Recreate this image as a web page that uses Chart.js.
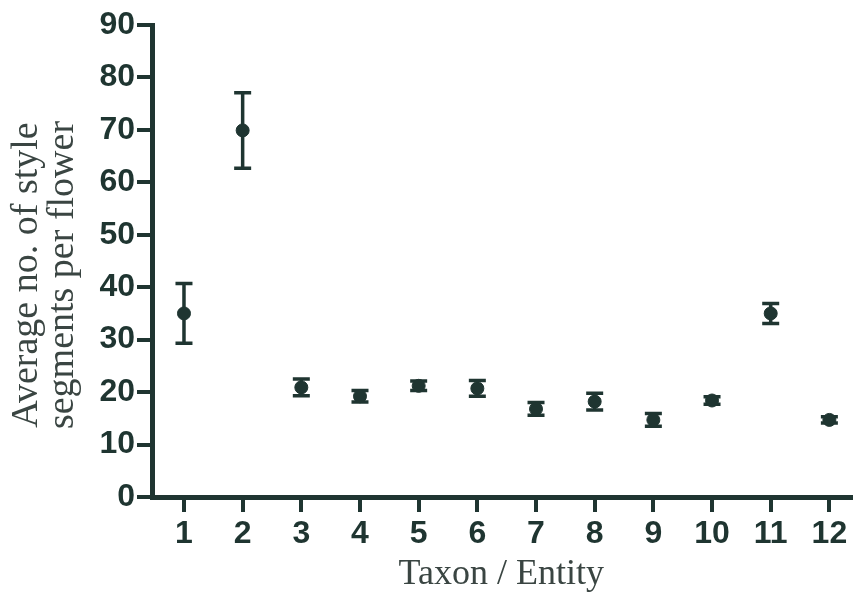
<!DOCTYPE html>
<html>
<head>
<meta charset="utf-8">
<script src="https://cdn.jsdelivr.net/npm/chart.js@4.4.1/dist/chart.umd.min.js"></script>
<style>
  html, body { margin: 0; padding: 0; background: #fff; }
  #wrap { width: 858px; height: 592px; }
</style>
</head>
<body>
<div id="wrap"><canvas id="chart" width="858" height="592"></canvas></div>
<script>
// taxon numbers, mean style segments and error (half bar)
const taxa = [1, 2, 3, 4, 5, 6, 7, 8, 9, 10, 11, 12];
const means = [35.0, 69.9, 20.9, 19.2, 21.2, 20.7, 16.8, 18.2, 14.7, 18.4, 35.0, 14.7];
const errs = [5.7, 7.2, 1.6, 1.1, 0.9, 1.5, 1.2, 1.6, 1.2, 0.7, 1.9, 0.6];
const yTicks = [0, 10, 20, 30, 40, 50, 60, 70, 80, 90];
const yTitle = ['Average no. of style', 'segments per flower'];
const xTitle = 'Taxon / Entity';

const ink = '#1f3531';
const textInk = '#3a4542';

const errorBars = {
    id: 'errorBars',
    beforeDatasetsDraw(chart) {
        const ctx = chart.ctx;
        const xs = chart.scales.x, ys = chart.scales.y;
        ctx.save();
        ctx.strokeStyle = ink;
        ctx.lineWidth = 3.5;
        taxa.forEach((t, i) => {
            const x = xs.getPixelForValue(t);
            const top = ys.getPixelForValue(means[i] + errs[i]);
            const bot = ys.getPixelForValue(means[i] - errs[i]);
            const cap = 8.5;
            ctx.beginPath();
            ctx.moveTo(x, top); ctx.lineTo(x, bot);
            ctx.moveTo(x - cap, top); ctx.lineTo(x + cap, top);
            ctx.moveTo(x - cap, bot); ctx.lineTo(x + cap, bot);
            ctx.stroke();
        });
        ctx.restore();
    }
};

// two-line rotated y title, a bit below the middle like the original
const yTitlePlugin = {
    id: 'yTitle',
    afterDraw(chart) {
        const ctx = chart.ctx;
        const cy = (chart.chartArea.top + chart.chartArea.bottom) / 2 + 14;
        ctx.save();
        ctx.fillStyle = textInk;
        ctx.font = '38px "Liberation Serif", serif';
        ctx.textAlign = 'center';
        ctx.textBaseline = 'alphabetic';
        ctx.translate(37, cy);
        ctx.rotate(-Math.PI / 2);
        ctx.fillText(yTitle[0], 0, 0);
        ctx.fillText(yTitle[1], 0, 36);
        ctx.restore();
    }
};

new Chart(document.getElementById('chart'), {
    type: 'scatter',
    data: {
        datasets: [{
            data: taxa.map((t, i) => ({ x: t, y: means[i] })),
            backgroundColor: ink,
            borderColor: ink,
            pointRadius: 6.5,
            pointHoverRadius: 6.5
        }]
    },
    options: {
        responsive: false,
        animation: false,
        devicePixelRatio: 1,
        layout: { padding: { top: 25, right: 0, bottom: 0, left: 0 } },
        plugins: { legend: { display: false }, tooltip: { enabled: false } },
        scales: {
            x: {
                type: 'linear',
                min: 0.455,
                max: 12.36,
                afterBuildTicks: s => { s.ticks = taxa.map(v => ({ value: v })); },
                afterFit: s => { s.height = 95; },
                border: { color: ink, width: 5 },
                grid: { drawOnChartArea: false, tickLength: 15, lineWidth: 4, color: ink },
                ticks: {
                    color: ink,
                    padding: 3,
                    font: { family: '"Liberation Sans", Arial, sans-serif', size: 32, weight: 'bold' }
                },
                title: {
                    display: true,
                    text: xTitle,
                    color: textInk,
                    padding: { top: 0, bottom: -1 },
                    font: { family: '"Liberation Serif", serif', size: 36, lineHeight: 1 }
                }
            },
            y: {
                min: 0,
                max: 90,
                afterBuildTicks: s => { s.ticks = yTicks.map(v => ({ value: v })); },
                afterFit: s => { s.width = 152; },
                border: { color: ink, width: 5 },
                grid: { drawOnChartArea: false, tickLength: 15, lineWidth: 4, color: ink },
                ticks: {
                    color: ink,
                    padding: 2,
                    font: { family: '"Liberation Sans", Arial, sans-serif', size: 32, weight: 'bold' }
                }
            }
        }
    },
    plugins: [errorBars, yTitlePlugin]
});
</script>
</body>
</html>
